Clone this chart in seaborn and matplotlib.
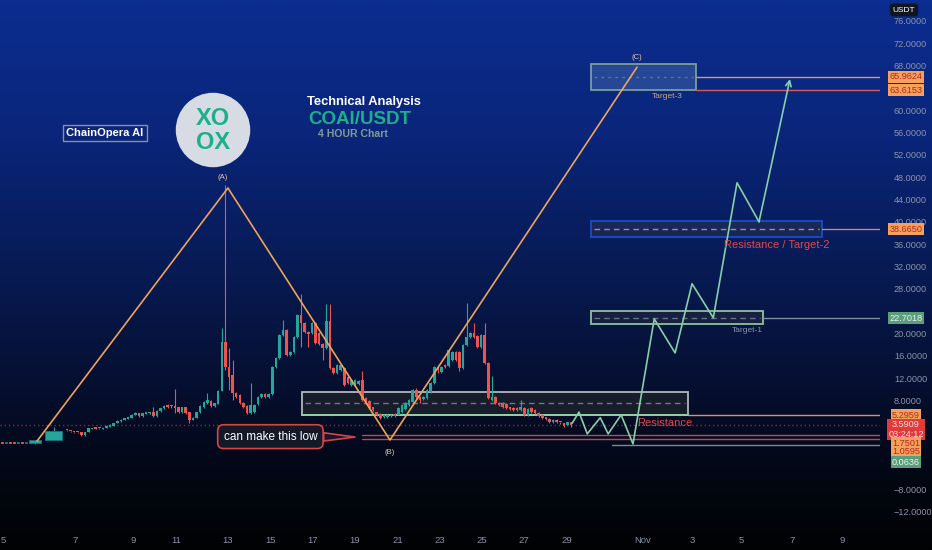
import numpy as np
import matplotlib
matplotlib.use("Agg")
import matplotlib.pyplot as plt
import matplotlib.patches as mpatches
from matplotlib.colors import LinearSegmentedColormap
import seaborn as sns

sns.set_theme(style="dark")
plt.rcParams['font.family'] = ['Liberation Sans', 'DejaVu Sans']

# ---------------------------------------------------------------
# data  (x in 4h-bar units, y in USDT)
# ---------------------------------------------------------------
FIRST_BAR = 18.6

opens = [2.69, 2.51, 2.33, 2.33, 2.33, 1.79, 2.33, 2.87, 3.23, 3.05,
         2.87, 3.05, 3.23, 3.40, 3.94, 4.30, 4.48, 4.66, 4.84, 5.38,
         5.73, 5.20, 5.56, 5.73, 5.91, 5.20, 6.09, 6.63, 7.17, 6.99,
         6.99, 6.81, 5.91, 6.81, 5.91, 4.48, 4.84, 5.91, 6.81, 7.53,
         7.88, 6.99, 7.35, 9.68, 18.46, 13.98, 12.54, 9.32, 8.96, 7.53,
         6.99, 5.73, 5.91, 7.35, 8.60, 9.14, 8.60, 9.14, 13.98, 15.59,
         19.71, 20.61, 16.13, 16.67, 19.35, 23.30, 21.86, 20.25, 20.07, 21.86,
         20.07, 18.10, 17.38, 22.22, 13.80, 12.90, 13.44, 13.80, 12.19, 10.75,
         10.75, 10.93, 11.65, 8.42, 7.88, 6.81, 5.91, 5.56, 5.02, 5.02,
         5.20, 5.56, 5.38, 5.91, 6.45, 7.17, 7.71, 9.86, 8.60, 8.24,
         8.42, 9.50, 11.11, 13.98, 13.08, 14.34, 14.16, 15.23, 16.67, 16.67,
         13.80, 17.92, 19.35, 20.07, 19.53, 17.56, 19.71, 14.69, 8.06, 8.60,
         7.53, 7.53, 7.35, 6.81, 6.63, 6.63, 6.27, 6.63, 5.38, 6.63,
         6.27, 5.73, 5.38, 5.02, 4.66, 4.12, 4.48, 4.12, 3.94, 3.58,
         4.12]
closes = [2.51, 2.33, 2.24, 2.15, 1.79, 2.33, 3.05, 3.05, 2.87, 2.87,
          3.05, 3.40, 3.58, 3.94, 4.30, 4.48, 4.84, 5.02, 5.38, 5.73,
          5.20, 5.73, 5.91, 5.91, 5.20, 6.09, 6.63, 6.99, 6.81, 6.81,
          6.63, 5.91, 6.81, 5.73, 4.48, 4.84, 5.91, 6.99, 7.71, 8.06,
          6.99, 7.53, 9.68, 18.46, 13.98, 12.19, 9.32, 8.60, 7.53, 6.81,
          5.73, 7.17, 7.17, 8.60, 9.14, 8.60, 9.14, 13.98, 15.59, 19.71,
          20.61, 16.13, 16.67, 19.35, 23.30, 21.86, 20.25, 19.89, 21.86, 18.28,
          18.10, 17.38, 22.22, 13.80, 12.90, 14.34, 14.34, 10.75, 11.11, 11.65,
          11.65, 11.47, 8.06, 7.53, 6.63, 6.27, 5.38, 4.84, 5.38, 5.38,
          5.38, 5.20, 6.63, 7.17, 7.53, 8.06, 9.86, 8.60, 8.06, 8.60,
          9.86, 11.11, 13.98, 13.44, 13.98, 13.98, 17.02, 16.67, 15.23, 13.80,
          17.92, 19.35, 20.07, 19.35, 17.56, 19.71, 14.69, 8.42, 8.60, 7.53,
          7.17, 6.81, 6.63, 6.45, 6.27, 6.27, 6.81, 5.38, 6.45, 5.91,
          5.73, 5.20, 4.84, 4.66, 4.12, 4.48, 4.12, 3.94, 3.40, 4.12,
          3.59]
highs = [2.75, 2.60, 2.40, 2.40, 2.40, 2.40, 3.10, 3.10, 3.30, 3.10,
         3.10, 3.50, 3.70, 4.00, 4.40, 4.60, 4.90, 5.10, 5.50, 5.90,
         5.80, 5.80, 6.00, 6.00, 6.81, 6.20, 6.70, 7.10, 7.30, 7.10,
         10.04, 6.90, 6.90, 6.90, 6.00, 5.00, 6.00, 7.10, 7.80, 9.32,
         8.00, 7.60, 9.80, 20.97, 46.59, 17.38, 15.23, 9.50, 9.10, 7.70,
         7.10, 11.11, 7.30, 8.70, 9.30, 9.30, 9.30, 14.10, 15.80, 19.90,
         22.40, 20.80, 16.90, 19.50, 23.50, 27.06, 22.00, 20.40, 22.00, 22.00,
         20.20, 18.30, 25.27, 25.27, 14.00, 14.50, 14.50, 14.00, 12.40, 11.80,
         11.80, 11.60, 13.26, 8.60, 8.00, 6.90, 6.00, 5.70, 5.50, 5.50,
         5.50, 5.70, 6.80, 7.30, 7.70, 8.20, 10.00, 10.21, 8.70, 8.70,
         10.00, 11.30, 14.10, 14.10, 14.10, 14.50, 17.20, 16.80, 16.80, 16.80,
         18.10, 25.45, 20.20, 21.86, 19.70, 19.90, 21.86, 14.80, 12.36, 8.70,
         7.70, 7.70, 7.50, 6.90, 6.80, 6.80, 8.06, 6.80, 6.60, 6.80,
         6.40, 5.90, 5.50, 5.10, 4.80, 4.60, 4.60, 4.20, 4.00, 4.20,
         4.20]
lows = [2.45, 2.30, 2.20, 2.10, 1.70, 1.70, 2.30, 2.80, 2.80, 2.80,
        2.80, 3.00, 3.20, 3.35, 3.90, 4.20, 4.40, 4.60, 4.80, 5.30,
        5.10, 5.10, 5.50, 5.60, 5.10, 5.10, 6.00, 6.50, 6.70, 6.70,
        5.73, 5.80, 5.80, 5.60, 3.94, 4.40, 4.80, 5.80, 6.70, 7.40,
        6.90, 6.90, 7.30, 9.60, 13.50, 9.86, 8.06, 8.40, 7.40, 6.70,
        5.50, 5.60, 5.80, 7.20, 8.50, 8.50, 8.50, 9.00, 13.80, 15.40,
        19.50, 15.90, 16.00, 16.50, 19.20, 17.56, 20.00, 17.56, 19.90, 18.10,
        17.90, 15.23, 17.20, 13.60, 12.70, 12.70, 13.30, 10.50, 10.90, 10.60,
        10.60, 10.80, 7.90, 7.40, 6.50, 6.10, 5.20, 4.70, 4.90, 4.90,
        5.10, 5.10, 5.30, 5.80, 6.30, 7.00, 7.60, 8.50, 7.53, 8.10,
        8.30, 9.40, 11.00, 12.90, 12.90, 13.80, 14.00, 15.00, 15.00, 13.26,
        13.70, 17.80, 19.20, 19.20, 17.40, 17.40, 14.50, 8.30, 7.90, 7.40,
        7.00, 6.70, 6.50, 6.30, 6.10, 6.10, 6.10, 5.20, 5.20, 5.80,
        5.60, 5.10, 4.70, 4.50, 4.00, 4.00, 4.00, 3.80, 3.30, 3.50,
        3.30]

# listing days (irregular first bars)
early_x = [0.6, 1.7, 2.8, 3.9, 5.0, 6.1, 7.2, 9.7, 14.9]
early_span = [0.7, 0.7, 0.7, 0.7, 0.7, 0.7, 0.7, 3.3, 4.7]
early_o = [0.50, 0.45, 0.55, 0.50, 0.40, 0.50, 0.45, 0.36, 0.90]
early_c = [0.40, 0.55, 0.45, 0.40, 0.50, 0.45, 0.55, 0.90, 2.51]
early_h = [0.55, 0.60, 0.60, 0.55, 0.55, 0.55, 0.60, 0.95, 3.23]
early_l = [0.35, 0.40, 0.40, 0.35, 0.35, 0.40, 0.40, 0.20, 0.90]

# Elliott ABC
wave_x = [10.3, 63.3, 108.3, 176.9]
wave_y = [0.72, 46.06, 0.90, 67.7]
wave_lbl = ['', '(A)', '(B)', '(C)']

# projected path
proj_x = [158.9, 160.8, 163.1, 166.7, 168.9, 172.5, 175.8, 181.7, 187.5,
          192.2, 198.1, 204.7, 210.8, 219.4]
proj_y = [3.9, 5.9, 2.0, 4.9, 2.0, 5.4, 0.2, 22.6, 16.5, 28.9, 22.8, 47.0,
          40.0, 65.6]

# zones
zone_name = ['support', 'Target-1', 'Target-2', 'Target-3']
zone_x0 = [83.9, 164.2, 164.2, 164.2]
zone_x1 = [191.1, 211.9, 228.3, 193.3]
zone_lo = [5.4, 21.7, 37.3, 63.6]
zone_hi = [9.5, 24.0, 40.1, 68.3]
zone_mid = [7.5, 22.8, 38.7, 65.96]

# horizontal levels
level_val = [65.9624, 63.6153, 38.6650, 22.7018, 5.2959, 1.7501, 1.0595, 0.0636]
level_from = [193.3, 193.3, 228.3, 211.9, 191.1, 100.6, 100.6, 170.0]
last_price = 3.5909
countdown = '03:24:12'

ytick_val = [76, 72, 68, 60, 56, 52, 48, 44, 40, 36, 32, 28, 20, 16, 12, 8, -8, -12]
xtick_pos = [0.8, 20.8, 36.9, 48.9, 63.3, 75.0, 86.9, 98.6, 110.6, 122.2,
             133.9, 145.6, 157.5, 178.6, 192.2, 205.8, 220.0, 233.9]
xtick_lbl = ['5', '7', '9', '11', '13', '15', '17', '19', '21', '23',
             '25', '27', '29', 'Nov', '3', '5', '7', '9']

# ---------------------------------------------------------------
UP, DOWN = '#26a69a', '#ef5350'
ORANGE = '#f0a35a'
PROJ = '#86cfa9'
AXTXT = '#8a93a8'

fig = plt.figure(figsize=(9.32, 5.5), dpi=100)

# background gradient
bg = fig.add_axes([0, 0, 1, 1])
cmap = LinearSegmentedColormap.from_list('bg', [
    (0.0, '#0c2d90'), (0.25, '#0a2579'), (0.5, '#071a52'),
    (0.72, '#050e2c'), (0.9, '#02060f'), (1.0, '#010204')])
grad = np.linspace(0, 1, 300).reshape(-1, 1)
bg.imshow(grad, aspect='auto', cmap=cmap, extent=[0, 1, 0, 1], origin='upper')
bg.set_axis_off()

ax = fig.add_axes([0, 22 / 550, 880 / 932, 528 / 550])
ax.set_facecolor('none')
ax.set_xlim(0, 244.4)
ax.set_ylim(-14.87, 79.75)
for s in ax.spines.values():
    s.set_visible(False)

# zones
zone_style = {
    'support':  dict(fc='#1a1f2c', ec='#c4c8d0', mid='#6f7789', ls=(0, (4, 3))),
    'Target-1': dict(fc='#19223f', ec='#9fd0aa', mid='#5f7396', ls=(0, (4, 3))),
    'Target-2': dict(fc='#1b2a55', ec='#1f4fd8', mid='#8b95aa', ls=(0, (4, 3))),
    'Target-3': dict(fc='#2a4b98', ec='#86a99c', mid='#4f7f88', ls=(0, (2, 3))),
}
for nm, x0, x1, lo, hi, mid in zip(zone_name, zone_x0, zone_x1, zone_lo, zone_hi, zone_mid):
    st = zone_style[nm]
    ax.add_patch(mpatches.Rectangle((x0, lo), x1 - x0, hi - lo, fc=st['fc'],
                                    ec=st['ec'], lw=1.3, alpha=0.9, zorder=2))
    ax.plot([x0 + 0.8, x1 - 0.8], [mid, mid], color=st['mid'], lw=1, ls=st['ls'], zorder=2.1)
ax.plot([zone_x0[0], zone_x1[0]], [zone_lo[0], zone_lo[0]], color='#8fd19e', lw=1.4, zorder=2.2)

# horizontal levels
level_col = ['#e8915a', '#d0605a', '#d08585', '#7c8fa0', '#e08a80', '#b84a55', '#b84a55', '#7c8a96']
for v, x0, c in zip(level_val, level_from, level_col):
    ax.plot([x0, 244.4], [v, v], color=c, lw=1, zorder=2)
ax.axhline(last_price, color='#8a2a35', lw=1, ls=(0, (1, 2)), zorder=1.5)

# candles
cx = np.arange(len(opens)) + FIRST_BAR
o = np.array(opens); c = np.array(closes)
cols = np.where(c >= o, UP, DOWN)
ax.vlines(cx, lows, highs, colors=cols, lw=0.8, zorder=3)
body = np.where(np.abs(c - o) < 0.25, 0.25, c - o)
ax.bar(cx, body, bottom=o, width=0.72, color=cols, lw=0, zorder=3.1)

eo = np.array(early_o); ec = np.array(early_c)
ecols = np.where(ec >= eo, UP, DOWN)
ax.vlines(early_x, early_l, early_h, colors=ecols, lw=0.8, zorder=3)
ax.bar(early_x, ec - eo, bottom=eo, width=early_span, color=ecols,
       edgecolor=np.where(ec >= eo, '#1d6f86', DOWN), lw=0.6, zorder=3.1)

# ABC wave
sns.lineplot(x=wave_x, y=wave_y, sort=False, estimator=None, color=ORANGE,
             lw=1.2, ax=ax, zorder=4)
lbl_dy = [0, 1.8, -2.2, 1.8]
for x, y, t, dy in zip(wave_x, wave_y, wave_lbl, lbl_dy):
    if t:
        ax.text(x - (1.6 if t == '(A)' else 0), y + dy, t, color='#e8c8a8',
                fontsize=5.5, ha='center', va='center', zorder=5)

# projection path
sns.lineplot(x=proj_x[:-1], y=proj_y[:-1], sort=False, estimator=None,
             color=PROJ, lw=1.2, ax=ax, zorder=4)
ax.annotate('', xy=(proj_x[-1], proj_y[-1]), xytext=(proj_x[-2], proj_y[-2]),
            arrowprops=dict(arrowstyle='->', color=PROJ, lw=1.2,
                            shrinkA=0, shrinkB=0, mutation_scale=10), zorder=4)

# zone labels
ax.text(176.9, 3.9, 'Resistance', color='#e0474c', fontsize=8, ha='left', va='center', zorder=5)
ax.text(185.3, 62.4, 'Target-3', color='#c9a27e', fontsize=6, ha='center', va='center', zorder=5)
ax.text(215.6, 35.9, 'Resistance / Target-2', color='#e0474c', fontsize=8, ha='center', va='center', zorder=5)
ax.text(207.5, 20.5, 'Target-1', color='#8a96a6', fontsize=6, ha='center', va='center', zorder=5)

# callout
ax.annotate('can make this low', xy=(98.6, 1.43), xytext=(75.1, 1.5),
            ha='center', va='center', fontsize=8.5, color='white', zorder=6,
            bbox=dict(boxstyle='round,pad=0.5', fc='#121a28', ec='#d8434b', lw=1.2),
            arrowprops=dict(arrowstyle='wedge,tail_width=0.7', fc='#121a28',
                            ec='#d8434b', lw=1.2, shrinkA=0, shrinkB=0))

# axes ticks
ax.yaxis.tick_right()
ax.set_yticks(ytick_val)
ax.set_yticklabels([f'{v:.4f}'.replace('-', '\u2212') for v in ytick_val])
ax.set_xticks(xtick_pos)
ax.set_xticklabels(xtick_lbl)
ax.tick_params(axis='y', length=0, pad=10, labelsize=6.6, labelcolor=AXTXT)
ax.tick_params(axis='x', length=0, pad=6, labelsize=6.8, labelcolor=AXTXT)
ax.grid(False)

# price labels on the scale
def price_tag(y, txt, fc, tc):
    ax.text(1.0295, y, txt, transform=ax.get_yaxis_transform(), ha='center', va='center',
            fontsize=6.6, color=tc, clip_on=False, zorder=10, linespacing=1.05,
            bbox=dict(boxstyle='square,pad=0.15', fc=fc, ec='none'))

tag_y = [65.96, 63.62, 38.67, 22.70, 5.38, 2.78, 0.36, -1.25, -3.05]
price_tag(tag_y[0], f'{level_val[0]:.4f}', '#f5a15c', '#b3261e')
price_tag(tag_y[1], f'{level_val[1]:.4f}', '#f5a15c', '#b3261e')
price_tag(tag_y[2], f'{level_val[2]:.4f}', '#f5a15c', '#b3261e')
price_tag(tag_y[3], f'{level_val[3]:.4f}', '#5a9e7c', '#e8f4ec')
price_tag(tag_y[4], f'{level_val[4]:.4f}', '#f5a15c', '#b3261e')
price_tag(tag_y[5], f'{last_price:.4f}\n{countdown}', '#e03a3a', '#ffe0e0')
price_tag(tag_y[6], f'{level_val[5]:.4f}', '#f5a15c', '#b3261e')
price_tag(tag_y[7], f'{level_val[6]:.4f}', '#f5a15c', '#b3261e')
price_tag(tag_y[8], f'{level_val[7]:.4f}', '#5a9e7c', '#e8f4ec')

fig.text(904 / 932, 1 - 10 / 550, 'USDT', ha='center', va='center', fontsize=6,
         color='white', bbox=dict(boxstyle='round,pad=0.35', fc='#101522', ec='none'))

# title block
fig.text(364 / 932, 1 - 102 / 550, 'Technical Analysis', ha='center', va='center',
         fontsize=9.3, fontweight='bold', color='white')
fig.text(360 / 932, 1 - 120 / 550, 'COAI/USDT', ha='center', va='center',
         fontsize=13.5, fontweight='bold', color='#1fae8c')
fig.text(353 / 932, 1 - 134 / 550, '4 HOUR Chart', ha='center', va='center',
         fontsize=7.6, fontweight='bold', color='#7f9c94')
fig.text(105 / 932, 1 - 133 / 550, 'ChainOpera AI', ha='center', va='center',
         fontsize=8, fontweight='bold', color='white',
         bbox=dict(boxstyle='square,pad=0.3', fc='none', ec='#8a8fa0', lw=1))

# logo
lg = fig.add_axes([(213 - 38) / 932, 1 - (130 + 38) / 550, 76 / 932, 76 / 550])
lg.set_xlim(-1, 1); lg.set_ylim(-1, 1); lg.set_aspect('equal'); lg.set_axis_off()
lg.add_patch(mpatches.Circle((0, 0), 0.98, fc='#d6dbe4', ec='none'))
lg.text(0, 0.3, 'XO', ha='center', va='center', fontsize=17, fontweight='bold', color='#1fae8c')
lg.text(0, -0.33, 'OX', ha='center', va='center', fontsize=17, fontweight='bold', color='#1fae8c')

fig.savefig('out.png', dpi=100)
